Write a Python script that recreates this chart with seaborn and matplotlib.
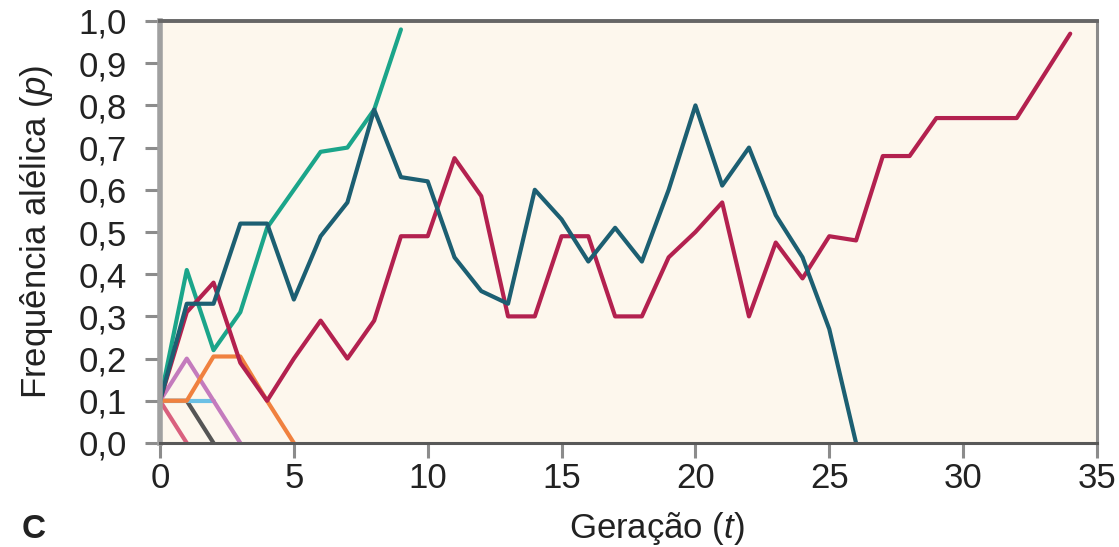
import numpy as np
import pandas as pd
import matplotlib
matplotlib.use("Agg")
import matplotlib.pyplot as plt
import seaborn as sns

# ---- data ----
teal_gen = list(range(0, 27))
teal_p = [0.10, 0.33, 0.33, 0.52, 0.52, 0.34, 0.49, 0.57, 0.79, 0.63,
          0.62, 0.44, 0.36, 0.33, 0.60, 0.53, 0.43, 0.51, 0.43, 0.60,
          0.80, 0.61, 0.70, 0.54, 0.44, 0.27, 0.0]

crimson_gen = list(range(0, 35))
crimson_p = [0.10, 0.31, 0.38, 0.19, 0.10, 0.20, 0.29, 0.20, 0.29, 0.49,
             0.49, 0.675, 0.585, 0.30, 0.30, 0.49, 0.49, 0.30, 0.30, 0.44,
             0.50, 0.57, 0.30, 0.475, 0.39, 0.49, 0.48, 0.68, 0.68, 0.77,
             0.77, 0.77, 0.77, 0.87, 0.97]

green_gen = list(range(0, 10))
green_p = [0.10, 0.41, 0.22, 0.31, 0.51, 0.60, 0.69, 0.70, 0.79, 0.98]

orange_gen = [0, 1, 2, 3, 4, 5]
orange_p = [0.10, 0.10, 0.205, 0.205, 0.10, 0.0]

purple_gen = [0, 1, 2, 3]
purple_p = [0.10, 0.20, 0.10, 0.0]

lightblue_gen = [0, 1, 2]
lightblue_p = [0.10, 0.10, 0.10]

gray_gen = [0, 1, 2]
gray_p = [0.10, 0.10, 0.0]

pink_gen = [0, 1]
pink_p = [0.10, 0.0]

series_order = ["rosa", "cinza", "azul", "lilas", "laranja", "verde", "vermelho", "petroleo"]
series_gens = [pink_gen, gray_gen, lightblue_gen, purple_gen, orange_gen, green_gen, crimson_gen, teal_gen]
series_vals = [pink_p, gray_p, lightblue_p, purple_p, orange_p, green_p, crimson_p, teal_p]
palette = {"rosa": "#d9607e", "cinza": "#555555", "azul": "#6cc0e5", "lilas": "#c47bbd",
           "laranja": "#f0813f", "verde": "#1ba58a", "vermelho": "#b3214f", "petroleo": "#1c5f72"}

x_ticks = [0, 5, 10, 15, 20, 25, 30, 35]
x_tick_labels = ["0", "5", "10", "15", "20", "25", "30", "35"]
y_ticks = [0.0, 0.1, 0.2, 0.3, 0.4, 0.5, 0.6, 0.7, 0.8, 0.9, 1.0]
y_tick_labels = ["0,0", "0,1", "0,2", "0,3", "0,4", "0,5", "0,6", "0,7", "0,8", "0,9", "1,0"]

rows = []
for name, g, v in zip(series_order, series_gens, series_vals):
    for i, (gg, vv) in enumerate(zip(g, v)):
        rows.append({"serie": name, "geracao": gg, "p": vv, "ordem": i})
df = pd.DataFrame(rows)

# ---- style ----
sns.set_style("ticks")
plt.rcParams["font.family"] = ["Liberation Sans", "DejaVu Sans"]
plt.rcParams["mathtext.fontset"] = "custom"
plt.rcParams["mathtext.it"] = "Liberation Sans:italic"
plt.rcParams["mathtext.rm"] = "Liberation Sans"

fig = plt.figure(figsize=(11.19, 5.47), dpi=100)
fig.patch.set_facecolor("white")
ax = fig.add_axes([160 / 1119, 1 - 443 / 547, (1097 - 160) / 1119, (443 - 21) / 547])
ax.set_facecolor("#fdf7ed")

sns.lineplot(data=df, x="geracao", y="p", hue="serie", hue_order=series_order,
             palette=palette, units="serie", estimator=None, sort=False,
             linewidth=3.0, legend=False, ax=ax)

ax.set_xlim(0, 35)
ax.set_ylim(0, 1.0)
ax.set_xticks(x_ticks)
ax.set_xticklabels(x_tick_labels)
ax.set_yticks(y_ticks)
ax.set_yticklabels(y_tick_labels)

ax.tick_params(axis="both", direction="out", length=11, width=2.2, color="#8c8c8c",
               labelsize=25, labelcolor="#222222")
ax.tick_params(axis="y", pad=13)
ax.tick_params(axis="x", pad=3)

for side, lw, col in [("left", 4.0, "#a0a0a0"), ("top", 2.8, "#666666"),
                      ("bottom", 2.2, "#585858"), ("right", 2.2, "#8a8a8a")]:
    ax.spines[side].set_visible(True)
    ax.spines[side].set_linewidth(lw)
    ax.spines[side].set_color(col)

ax.set_xlabel("Geração ($\\mathit{t}$)", fontsize=25, color="#222222")
ax.set_ylabel("Frequência alélica ($\\mathit{p}$)", fontsize=25, color="#222222")
ax.xaxis.set_label_coords(0.530, -0.158)
ax.yaxis.set_label_coords(-0.112, 0.5)

fig.text(22 / 1119, 1 - 538 / 547, "C", fontsize=24, fontweight="bold",
         color="#222222", ha="left", va="baseline")

fig.savefig("out.png", dpi=100, facecolor="white")
